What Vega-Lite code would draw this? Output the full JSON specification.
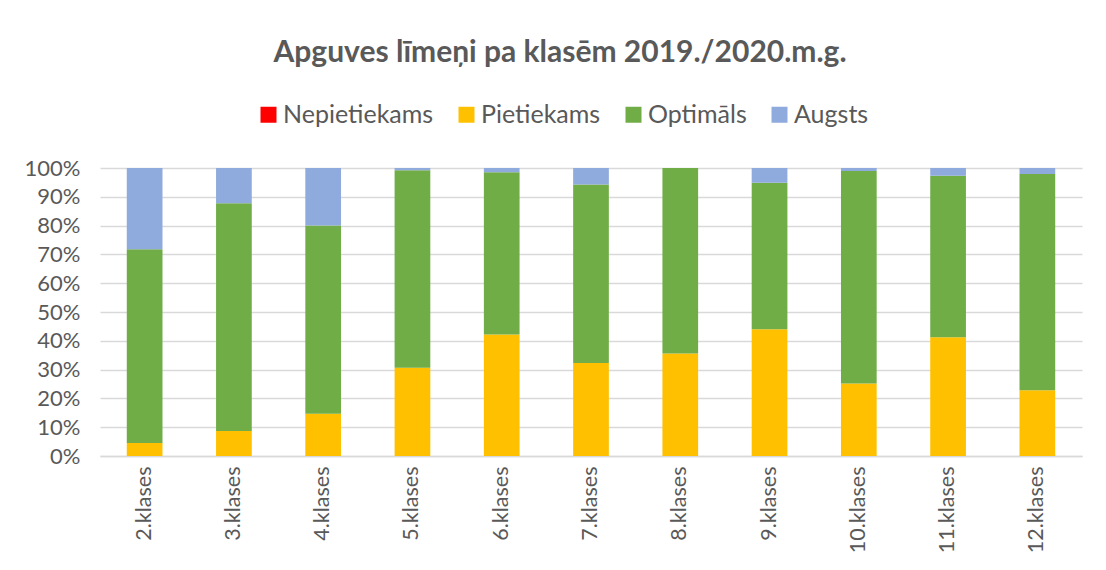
{
  "$schema": "https://vega.github.io/schema/vega-lite/v6.json",
  "autosize": {"type": "none"},
  "padding": {"left": 100, "top": 168, "right": 24, "bottom": 114},
  "width": 982,
  "height": 288,
  "background": "white",
  "config": {
    "font": "Lato",
    "view": {"stroke": null}
  },
  "title": {
    "text": "Apguves līmeņi pa klasēm 2019./2020.m.g.",
    "font": "Lato",
    "fontSize": 30,
    "fontWeight": "bold",
    "color": "#595959",
    "anchor": "middle",
    "dx": -31,
    "offset": 34
  },
  "data": {
    "values": [
      {"klase": "2.klases", "limenis": "Nepietiekams", "ord": 0, "v": 0},
      {"klase": "2.klases", "limenis": "Pietiekams", "ord": 1, "v": 0.045},
      {"klase": "2.klases", "limenis": "Optimāls", "ord": 2, "v": 0.673},
      {"klase": "2.klases", "limenis": "Augsts", "ord": 3, "v": 0.282},
      {"klase": "3.klases", "limenis": "Nepietiekams", "ord": 0, "v": 0},
      {"klase": "3.klases", "limenis": "Pietiekams", "ord": 1, "v": 0.087},
      {"klase": "3.klases", "limenis": "Optimāls", "ord": 2, "v": 0.791},
      {"klase": "3.klases", "limenis": "Augsts", "ord": 3, "v": 0.122},
      {"klase": "4.klases", "limenis": "Nepietiekams", "ord": 0, "v": 0},
      {"klase": "4.klases", "limenis": "Pietiekams", "ord": 1, "v": 0.147},
      {"klase": "4.klases", "limenis": "Optimāls", "ord": 2, "v": 0.653},
      {"klase": "4.klases", "limenis": "Augsts", "ord": 3, "v": 0.2},
      {"klase": "5.klases", "limenis": "Nepietiekams", "ord": 0, "v": 0},
      {"klase": "5.klases", "limenis": "Pietiekams", "ord": 1, "v": 0.306},
      {"klase": "5.klases", "limenis": "Optimāls", "ord": 2, "v": 0.686},
      {"klase": "5.klases", "limenis": "Augsts", "ord": 3, "v": 0.008},
      {"klase": "6.klases", "limenis": "Nepietiekams", "ord": 0, "v": 0},
      {"klase": "6.klases", "limenis": "Pietiekams", "ord": 1, "v": 0.422},
      {"klase": "6.klases", "limenis": "Optimāls", "ord": 2, "v": 0.563},
      {"klase": "6.klases", "limenis": "Augsts", "ord": 3, "v": 0.015},
      {"klase": "7.klases", "limenis": "Nepietiekams", "ord": 0, "v": 0},
      {"klase": "7.klases", "limenis": "Pietiekams", "ord": 1, "v": 0.323},
      {"klase": "7.klases", "limenis": "Optimāls", "ord": 2, "v": 0.62},
      {"klase": "7.klases", "limenis": "Augsts", "ord": 3, "v": 0.057},
      {"klase": "8.klases", "limenis": "Nepietiekams", "ord": 0, "v": 0},
      {"klase": "8.klases", "limenis": "Pietiekams", "ord": 1, "v": 0.356},
      {"klase": "8.klases", "limenis": "Optimāls", "ord": 2, "v": 0.644},
      {"klase": "8.klases", "limenis": "Augsts", "ord": 3, "v": 0},
      {"klase": "9.klases", "limenis": "Nepietiekams", "ord": 0, "v": 0},
      {"klase": "9.klases", "limenis": "Pietiekams", "ord": 1, "v": 0.44},
      {"klase": "9.klases", "limenis": "Optimāls", "ord": 2, "v": 0.509},
      {"klase": "9.klases", "limenis": "Augsts", "ord": 3, "v": 0.051},
      {"klase": "10.klases", "limenis": "Nepietiekams", "ord": 0, "v": 0},
      {"klase": "10.klases", "limenis": "Pietiekams", "ord": 1, "v": 0.252},
      {"klase": "10.klases", "limenis": "Optimāls", "ord": 2, "v": 0.738},
      {"klase": "10.klases", "limenis": "Augsts", "ord": 3, "v": 0.01},
      {"klase": "11.klases", "limenis": "Nepietiekams", "ord": 0, "v": 0},
      {"klase": "11.klases", "limenis": "Pietiekams", "ord": 1, "v": 0.412},
      {"klase": "11.klases", "limenis": "Optimāls", "ord": 2, "v": 0.561},
      {"klase": "11.klases", "limenis": "Augsts", "ord": 3, "v": 0.027},
      {"klase": "12.klases", "limenis": "Nepietiekams", "ord": 0, "v": 0},
      {"klase": "12.klases", "limenis": "Pietiekams", "ord": 1, "v": 0.228},
      {"klase": "12.klases", "limenis": "Optimāls", "ord": 2, "v": 0.751},
      {"klase": "12.klases", "limenis": "Augsts", "ord": 3, "v": 0.021}
    ]
  },
  "mark": {"type": "bar"},
  "encoding": {
    "x": {
      "field": "klase",
      "type": "nominal",
      "sort": null,
      "title": null,
      "scale": {"paddingInner": 0.6, "paddingOuter": 0.3},
      "axis": {
        "labelAngle": -90,
        "labelAlign": "right",
        "labelBaseline": "middle",
        "labelFontSize": 21.5,
        "labelColor": "#595959",
        "labelPadding": 10,
        "labelFont": "Lato",
        "ticks": false,
        "domainColor": "#d9d9d9",
        "domainWidth": 1.5
      }
    },
    "y": {
      "field": "v",
      "type": "quantitative",
      "stack": "zero",
      "title": null,
      "scale": {"domain": [0, 1], "nice": false},
      "axis": {
        "values": [0, 0.1, 0.2, 0.3, 0.4, 0.5, 0.6, 0.7, 0.8, 0.9, 1],
        "format": ".0%",
        "labelFontSize": 22,
        "labelColor": "#595959",
        "labelFont": "Lato",
        "labelPadding": 20,
        "ticks": false,
        "domain": false,
        "grid": true,
        "gridColor": "#d9d9d9",
        "gridWidth": 1.5
      }
    },
    "color": {
      "field": "limenis",
      "type": "nominal",
      "scale": {
        "domain": ["Nepietiekams", "Pietiekams", "Optimāls", "Augsts"],
        "range": ["#FF0000", "#FFC000", "#70AD47", "#8FAADC"]
      },
      "legend": {
        "title": null,
        "orient": "none",
        "direction": "horizontal",
        "legendX": 156,
        "legendY": -66,
        "symbolType": "square",
        "symbolSize": 256,
        "symbolStrokeWidth": 0,
        "symbolOpacity": 1,
        "labelFontSize": 25,
        "labelFont": "Lato",
        "labelColor": "#595959",
        "labelOffset": 2,
        "columnPadding": 20
      }
    },
    "order": {"field": "ord", "type": "quantitative"}
  }
}
